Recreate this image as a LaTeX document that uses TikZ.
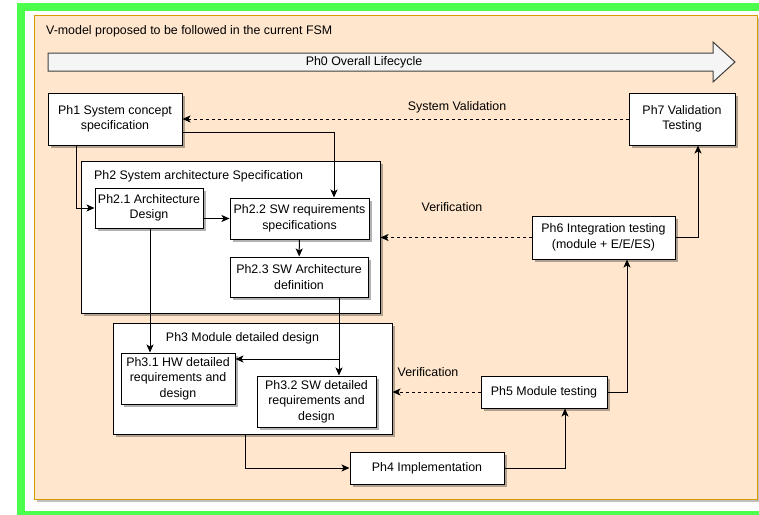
\documentclass[tikz,border=0pt]{standalone}
\usepackage{fontspec}
\setmainfont{Liberation Sans}
\usetikzlibrary{positioning, arrows.meta, shadows}

\definecolor{framegreen}{RGB}{77,255,77}
\definecolor{paneorange}{RGB}{255,230,204}
\definecolor{paneedge}{RGB}{215,155,0}
\definecolor{lifegray}{RGB}{245,245,245}

\begin{document}
\begin{tikzpicture}[x=1pt, y=-1pt,
    phase/.style = {draw, line width=1pt, fill=white, align=center, inner sep=0pt,
                    font=\fontsize{12.4}{15.5}\selectfont,
                    drop shadow={shadow xshift=2.5pt, shadow yshift=-2.5pt, fill=black, opacity=0.3}},
    group/.style = {phase},
    title/.style = {font=\fontsize{12.4}{15.5}\selectfont, inner sep=0pt},
    flow/.style  = {-{Stealth[length=8pt, width=7pt, inset=2pt]}, line width=1pt},
    check/.style = {flow, dash pattern=on 3pt off 3pt},
  ]
    \useasboundingbox (0,0) rectangle (759,514);

    % --- frame and pane ---
    \draw[framegreen, line width=8pt] (21,7) rectangle (766,515);
    \node[draw=paneedge, line width=1pt, fill=paneorange, minimum width=723pt, minimum height=484pt,
          drop shadow={shadow xshift=2.5pt, shadow yshift=-3pt, fill=black, opacity=0.25}]
          (pane) at (395.5,257) {};
    \node[title, anchor=west] (head) at (46,31) {V-model proposed to be followed in the current FSM};

    % --- overall lifecycle arrow ---
    \draw[line width=1pt, draw=black!75, fill=lifegray]
      (48,53) -- (713,53) -- (713,42) -- (735,62) -- (713,82) -- (713,71) -- (48,71) -- cycle;
    \node[title] (ph0) at (364,62) {Ph0 Overall Lifecycle};

    % --- containers ---
    \node[group, minimum width=299pt, minimum height=152pt] (ph2) at (230.5,237) {};
    \node[title, anchor=west] (ph2t) at (94,176) {Ph2 System architecture Specification};
    \node[group, minimum width=279pt, minimum height=111pt] (ph3) at (252.5,378.5) {};
    \node[title] (ph3t) at (242.5,338) {Ph3 Module detailed design};

    % --- phases ---
    \node[phase, minimum width=134pt, minimum height=52pt] (ph1)  at (115,119)    {Ph1 System concept\\ specification};
    \node[phase, minimum width=106pt, minimum height=52pt] (ph7)  at (682,119)    {Ph7 Validation\\ Testing};
    \node[phase, minimum width=108pt, minimum height=40pt] (ph21) at (149,208)    {Ph2.1 Architecture\\ Design};
    \node[phase, minimum width=139pt, minimum height=41pt] (ph22) at (299.5,218.5) {Ph2.2 SW requirements\\ specifications};
    \node[phase, minimum width=138pt, minimum height=40pt] (ph23) at (299,277)    {Ph2.3 SW Architecture\\ definition};
    \node[phase, minimum width=114pt, minimum height=51pt] (ph31) at (178,378.5)  {Ph3.1 HW detailed\\ requirements and\\ design};
    \node[phase, minimum width=119pt, minimum height=51pt] (ph32) at (316.5,401.5) {Ph3.2 SW detailed\\ requirements and\\ design};
    \node[phase, minimum width=154pt, minimum height=32pt] (ph4)  at (427,468)    {Ph4 Implementation};
    \node[phase, minimum width=126pt, minimum height=32pt] (ph5)  at (544,392)    {Ph5 Module testing};
    \node[phase, minimum width=143pt, minimum height=43pt] (ph6)  at (603.5,237.5) {Ph6 Integration testing\\ (module + E/E/ES)};

    % --- left leg of the V ---
    \draw[flow] (ph1.south -| 76,0) |- (ph21.west);
    \draw[flow] (ph1.east |- 0,132) -| (ph22.north -| 334,0);
    \draw[flow] (ph21.east |- ph22) -- (ph22.west);
    \draw[flow] (ph22) -- (ph23);
    \draw[flow] (ph21.south -| 150,0) -- (ph31.north -| 150,0);
    \draw[flow] (ph23.south -| 339,0) -- (ph32.north -| 339,0);
    \draw[flow] (339,359) -- (ph31.east |- 0,359);
    \draw[flow] (ph3.south -| 245,0) |- (ph4.west);

    % --- right leg of the V ---
    \draw[flow] (ph4.east) -| (ph5.south -| 565,0);
    \draw[flow] (ph5.east) -| (ph6.south -| 627,0);
    \draw[flow] (ph6.east) -| (ph7.south -| 698,0);

    % --- verification and validation ---
    \draw[check] (ph7.west) -- (ph1.east);
    \draw[check] (ph6.west) -- (ph2.east |- ph6);
    \draw[check] (ph5.west) -- (ph3.east |- ph5);
    \node[title] (val)  at (457,107) {System Validation};
    \node[title] (ver2) at (452,207) {Verification};
    \node[title] (ver3) at (428,372) {Verification};
  \end{tikzpicture}
\end{document}
